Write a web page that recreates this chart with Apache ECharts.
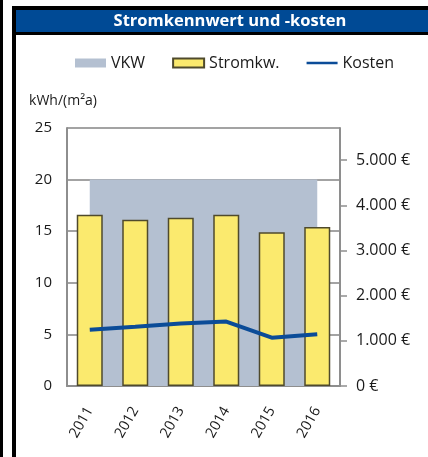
<!DOCTYPE html>
<html>
<head>
<meta charset="utf-8">
<script src="https://cdn.jsdelivr.net/npm/echarts@6/dist/echarts.min.js"></script>
<style>
  html, body { margin: 0; padding: 0; background: #fff; }
  #main { width: 428px; height: 457px; }
</style>
</head>
<body>
<div id="main"></div>
<script>
var years = ['2011', '2012', '2013', '2014', '2015', '2016'];
var vkwValues = [20, 20, 20, 20, 20, 20];
var stromValues = [16.6, 16.1, 16.3, 16.6, 14.9, 15.4];
var kostenValues = [1245, 1310, 1385, 1425, 1070, 1145];
var euroTicks = [0, 1000, 2000, 3000, 4000, 5000];

var fontFamily = '"Open Sans", "Noto Sans", sans-serif',
    axisGrey = '#8e8e8e',
    vkwColor = '#b4c0d1',
    stromColor = '#fbea6e',
    stromBorder = '#4f4a2c',
    kostenColor = '#0b4c98',
    titleBlue = '#004a95';

function euro(v) {
    var s = String(v).replace(/\B(?=(\d{3})+(?!\d))/g, '.');
    return s + ' €';
}

var chart = echarts.init(document.getElementById('main'), null, { renderer: 'canvas' });

var option = {
    animation: false,
    textStyle: { fontFamily: fontFamily, color: '#1a1a1a' },
    graphic: [
        // rahmen links
        { type: 'rect', shape: { x: 0, y: 0, width: 3, height: 457 }, style: { fill: '#000' } },
        { type: 'rect', shape: { x: 12, y: 6, width: 4, height: 451 }, style: { fill: '#000' } },
        { type: 'rect', shape: { x: 12, y: 6, width: 416, height: 4 }, style: { fill: '#000' } },
        // titelbalken
        { type: 'rect', shape: { x: 16, y: 10, width: 412, height: 22 }, style: { fill: titleBlue } },
        { type: 'rect', shape: { x: 16, y: 32, width: 412, height: 3 }, style: { fill: '#000' } },
        {
            type: 'text', x: 230, y: 21,
            style: {
                text: 'Stromkennwert und -kosten', fill: '#fff',
                font: 'bold 16.5px ' + fontFamily, align: 'center', verticalAlign: 'middle'
            }
        }
    ],
    legend: {
        left: 70,
        top: 50,
        itemWidth: 31,
        itemHeight: 9,
        itemGap: 27,
        textStyle: { fontSize: 16, color: '#1a1a1a' },
        data: [
            { name: 'VKW', icon: 'rect', itemStyle: { borderWidth: 0 } },
            { name: 'Stromkw.', icon: 'rect' },
            { name: 'Kosten', icon: 'path://M0,0 L0.01,0 Z M0,3.3 L31,3.3 L31,5.7 L0,5.7 Z M0,9 L0.01,9 Z', itemStyle: { color: kostenColor } }
        ]
    },
    grid: { left: 67, right: 88, top: 128, bottom: 71, containLabel: false },
    xAxis: {
        type: 'category',
        data: years,
        boundaryGap: true,
        axisLine: { lineStyle: { color: axisGrey, width: 2 } },
        axisTick: { show: false },
        axisLabel: { rotate: 60, fontSize: 14.5, color: '#1a1a1a', margin: 22 }
    },
    yAxis: [{
        type: 'value',
        min: 0, max: 25, interval: 5,
        name: 'kWh/(m²a)',
        nameLocation: 'end',
        nameGap: 20,
        nameTextStyle: { fontSize: 14, color: '#1a1a1a', align: 'center', padding: [0, 8, 0, 0] },
        axisLine: { show: true, lineStyle: { color: axisGrey, width: 2 } },
        axisTick: { show: false },
        axisLabel: { fontSize: 15, color: '#1a1a1a', margin: 15 },
        splitLine: { show: true, lineStyle: { color: '#a3a3a3', width: 2 } }
    }, {
        type: 'value',
        position: 'right',
        min: 0, max: 5710,
        axisLine: { show: true, lineStyle: { color: axisGrey, width: 2 } },
        axisTick: { show: true, inside: false, length: 7, lineStyle: { color: axisGrey, width: 1.5 }, customValues: euroTicks },
        axisLabel: { fontSize: 16, color: '#1a1a1a', margin: 16, customValues: euroTicks, formatter: euro },
        splitLine: { show: false }
    }],
    series: [{
        name: 'VKW',
        type: 'line',
        data: vkwValues,
        symbol: 'none',
        color: vkwColor,
        lineStyle: { width: 0 },
        areaStyle: { color: vkwColor, opacity: 1 },
        z: 1
    }, {
        name: 'Stromkw.',
        type: 'bar',
        data: stromValues,
        barWidth: 26,
        itemStyle: { color: stromColor, borderColor: stromBorder, borderWidth: 1.5 },
        z: 2
    }, {
        name: 'Kosten',
        type: 'line',
        yAxisIndex: 1,
        data: kostenValues,
        symbol: 'none',
        color: kostenColor,
        lineStyle: { width: 4, color: kostenColor },
        z: 3
    }]
};

chart.setOption(option);
</script>
</body>
</html>
